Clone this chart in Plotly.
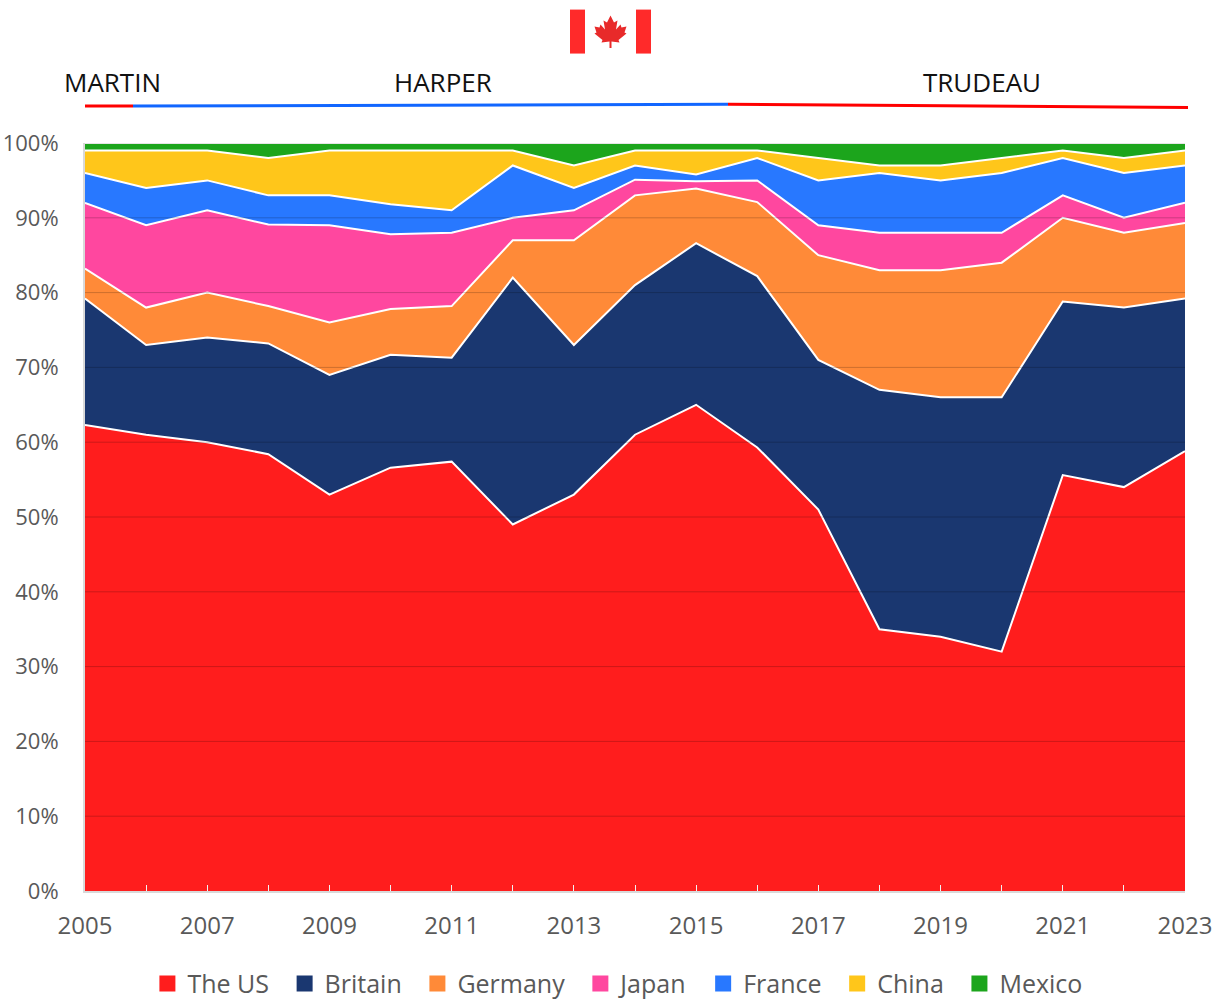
import plotly.graph_objects as go

years = list(range(2005, 2024))
the_us = [62.3,61,60,58.4,53,56.6,57.4,49,53,61,65,59.3,51,35,34,32,55.6,54,58.8]
britain = [16.9,12,14,14.8,16,15.1,13.9,33,20,20,21.6,22.9,20,32,32,34,23.2,24,20.4]
germany = [4,5,6,5,7,6.1,6.9,5,14,12,7.3,9.9,14,16,17,18,11.2,10,10.1]
japan = [8.8,11,11,10.9,13,10,9.8,3,4,2.1,1,2.9,4,5,5,4,3,2,2.7]
france = [4,5,4,3.9,4,4,3,7,3,1.9,0.9,3,6,8,7,8,5,6,5]
china = [3,5,4,5,6,7.2,8,2,3,2,3.2,1,3,1,2,2,1,2,2]
mexico = [1,1,1,2,1,1,1,1,3,1,1,1,2,3,3,2,1,2,1]

series = [("The US", the_us, "#FF1D1D"), ("Britain", britain, "#1A3770"),
          ("Germany", germany, "#FF8A38"), ("Japan", japan, "#FF479F"),
          ("France", france, "#2878FF"), ("China", china, "#FFC61A"),
          ("Mexico", mexico, "#1CA51C")]
y_ticks = list(range(0, 101, 10))
leaders = ["MARTIN", "HARPER", "TRUDEAU"]

L, R, T, B = 85, 1185, 142.5, 891
def px(x): return (x - L) / (R - L)
def py(y): return (B - y) / (B - T)

fig = go.Figure()
for name, vals, col in series:
    fig.add_trace(go.Scatter(x=years, y=vals, name=name, stackgroup="one", mode="lines",
                             line=dict(color="white", width=2), fillcolor=col, showlegend=False))
for name, vals, col in series:
    fig.add_trace(go.Scatter(x=[None], y=[None], name=name + "\u00a0\u2009", mode="markers",
                             marker=dict(symbol="square", size=16, color=col)))

shapes = []
for t in y_ticks[1:]:
    shapes.append(dict(type="line", xref="paper", yref="y", x0=0, x1=1, y0=t, y1=t,
                       line=dict(color="rgba(0,0,0,0.2)", width=1), layer="above"))
def seg(x0, y0, x1, y1, c):
    return dict(type="line", xref="paper", yref="paper", x0=px(x0), x1=px(x1), y0=py(y0), y1=py(y1),
                line=dict(color=c, width=3), layer="above")
shapes += [seg(85, 105.5, 133, 105.5, "#FF0000"), seg(133, 105.5, 728, 103.7, "#1166FF"),
           seg(728, 103.7, 1188, 107, "#FF0000")]
def box(x0, y0, x1, y1, c):
    return dict(type="rect", xref="paper", yref="paper", x0=px(x0), x1=px(x1), y0=py(y0), y1=py(y1),
                fillcolor=c, line=dict(width=0), layer="above")
shapes += [box(570, 9, 585, 53, "#FF2A2A"), box(636, 9, 651, 53, "#FF2A2A")]
leaf = [(0,15),(3.5,22),(7,20),(5.5,29),(10,24),(11,27),(16,26),(14,32),(16,33),(8,39.5),(9,42),(1,41),
        (1,47.5),(-1,47.5),(-1,41),(-9,42),(-8,39.5),(-16,33),(-14,32),(-16,26),(-11,27),(-10,24),
        (-5.5,29),(-7,20),(-3.5,22)]
path = "M " + " L ".join(f"{px(610.5+a):.5f},{py(b):.5f}" for a, b in leaf) + " Z"
shapes.append(dict(type="path", xref="paper", yref="paper", path=path, fillcolor="#E82A2A",
                   line=dict(width=0), layer="above"))

FONT = "Open Sans"
annos = [dict(text=n, xref="paper", yref="paper", x=px(cx), y=py(81.5), showarrow=False,
              xanchor="center", yanchor="middle", font=dict(family=FONT, size=26, color="#111111"))
         for n, cx in zip(leaders, [112, 443, 982])]

fig.update_layout(
    width=1216, height=1002, autosize=False, paper_bgcolor="white", plot_bgcolor="white",
    margin=dict(l=L, r=1216 - R, t=T, b=1002 - B, pad=0, autoexpand=False),
    font=dict(family=FONT, size=24, color="#595959"),
    xaxis=dict(range=[2005, 2023], tick0=2005, dtick=2, ticks="inside", ticklen=6, tickcolor="#F2F2F2",
               tickwidth=1, showgrid=False, zeroline=False, showline=True, linecolor="#D9D9D9", linewidth=2,
               layer="above traces", ticklabelstandoff=12, tickfont=dict(size=24, color="#595959"),
               automargin=False,
               minor=dict(dtick=1, tick0=2005, ticks="inside", ticklen=6, tickcolor="#F2F2F2", showgrid=False)),
    yaxis=dict(range=[0, 100], tick0=0, dtick=10, ticksuffix="%", showgrid=False, zeroline=False, ticks="",
               showline=True, linecolor="#D9D9D9", linewidth=2, layer="above traces", automargin=False,
               ticklabelstandoff=20, tickfont=dict(size=22, color="#595959")),
    legend=dict(orientation="h", x=0.489, xanchor="center", y=-0.124, yanchor="middle", traceorder="normal",
                font=dict(size=25, color="#595959"), itemclick=False, itemdoubleclick=False,
                bgcolor="rgba(0,0,0,0)"),
    shapes=shapes, annotations=annos, hovermode="x",
)
fig.write_html("out.html", config=dict(displayModeBar=False),
               post_script="document.body.style.margin='0';document.body.style.overflow='hidden';")
